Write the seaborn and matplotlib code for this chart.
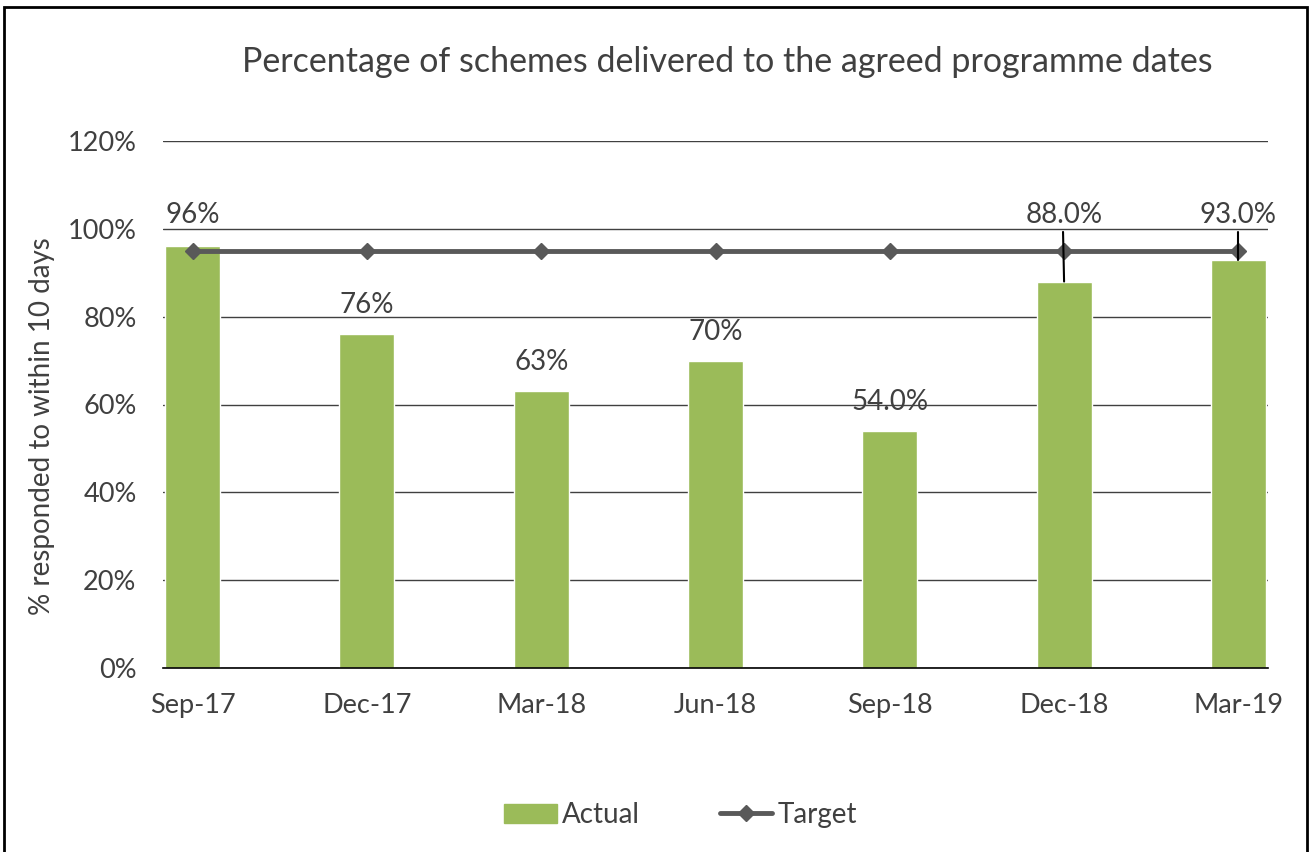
import matplotlib
matplotlib.use("Agg")
import matplotlib.pyplot as plt
import seaborn as sns
import pandas as pd
from matplotlib.patches import Rectangle
from matplotlib.lines import Line2D
from matplotlib.patches import Patch

quarters = ["Sep-17", "Dec-17", "Mar-18", "Jun-18", "Sep-18", "Dec-18", "Mar-19"]
actual = [96, 76, 63, 70, 54, 88, 93]
target = [95, 95, 95, 95, 95, 95, 95]
labels = ["96%", "76%", "63%", "70%", "54.0%", "88.0%", "93.0%"]

sns.set_style("white")
plt.rcParams["font.family"] = ["Lato", "DejaVu Sans"]

text_col = "#404040"
bar_col = "#9BBB59"
line_col = "#595959"

df = pd.DataFrame({"quarter": quarters, "actual": actual, "target": target})

fig = plt.figure(figsize=(13.09, 8.52), dpi=100)
ax = fig.add_axes([163 / 1309, 1 - 668 / 852, (1268 - 163) / 1309, (668 - 141) / 852])

sns.barplot(data=df, x="quarter", y="actual", color=bar_col, width=0.316,
            saturation=1, ax=ax, zorder=2)
ax.plot(range(len(quarters)), df["target"], color=line_col, lw=3.5,
        marker="D", markersize=8, zorder=3)

ax.set_ylim(0, 120)
ax.set_xlim(-0.17, len(quarters) - 1 + 0.17)
ax.set_yticks(range(0, 121, 20))
ax.set_yticklabels([f"{v}%" for v in range(0, 121, 20)])
ax.yaxis.grid(True, color="#404040", lw=1.0, zorder=0)
ax.set_axisbelow(True)
for s in ["top", "right", "left"]:
    ax.spines[s].set_visible(False)
ax.spines["bottom"].set_color("#000000")
ax.spines["bottom"].set_linewidth(1.2)
ax.tick_params(axis="both", length=0, labelsize=19.5, colors=text_col)
ax.tick_params(axis="x", pad=18)
ax.tick_params(axis="y", pad=19)
ax.set_xlabel("")
ax.set_ylabel("")
fig.text(42 / 1309, 1 - 426 / 852, "% responded to within 10 days", rotation=90,
         ha="center", va="center", fontsize=20, color=text_col)

# data labels (leader lines for the last two)
for i, (v, lab) in enumerate(zip(actual, labels)):
    if i == 0 or i >= 5:
        ax.text(i, 103.2, lab, ha="center", va="center", fontsize=20, color=text_col)
        if i >= 5:
            ax.plot([i, i - 0.006 * (i == 5)], [v, 99.3], color="black", lw=1.5, zorder=4)
    else:
        ax.text(i, v + 6.6, lab, ha="center", va="center", fontsize=20, color=text_col)

fig.text(0.556, 1 - 62 / 852, "Percentage of schemes delivered to the agreed programme dates",
         ha="center", va="center", fontsize=24.5, color=text_col)

handles = [Patch(color=bar_col, label="Actual"),
           Line2D([0], [0], color=line_col, lw=3.5, marker="D", markersize=8, label="Target")]
fig.legend(handles=handles, loc="center", bbox_to_anchor=(0.520, 1 - 815 / 852), ncol=2,
           frameon=False, fontsize=20, labelcolor=text_col, handlelength=1.9,
           handletextpad=0.2, columnspacing=2.85)

fig.patches.append(Rectangle((4 / 1309, -0.02), (1307 - 4) / 1309, 1.02 - 7 / 852,
                             transform=fig.transFigure, fill=False, edgecolor="black",
                             lw=2, zorder=10))

fig.savefig("out.png", dpi=100)
